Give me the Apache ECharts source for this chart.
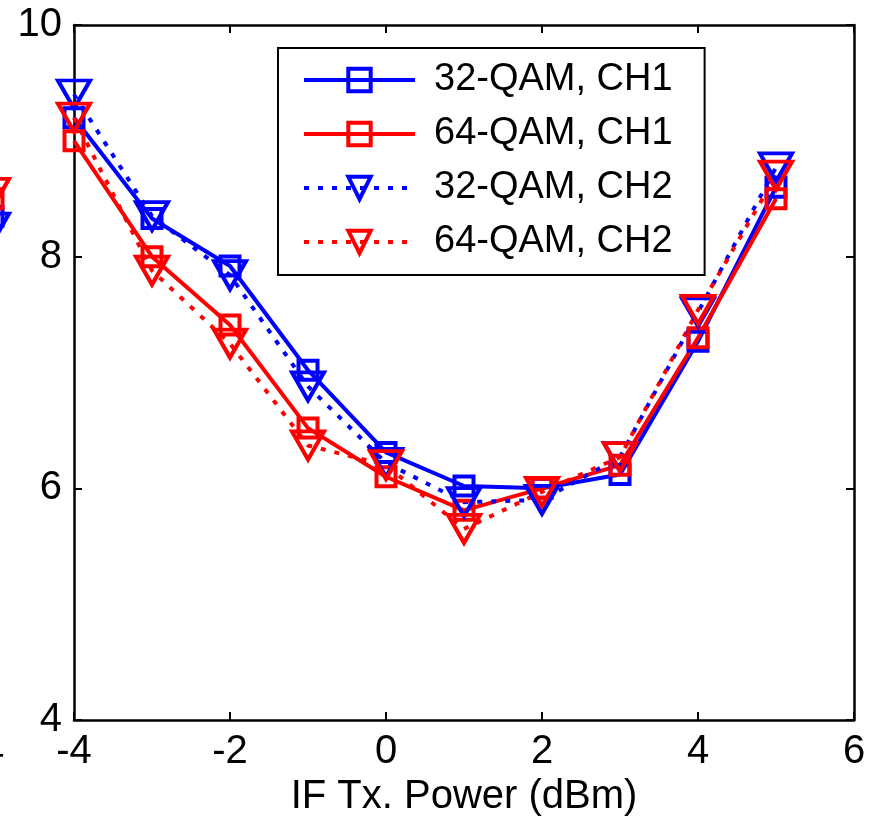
<!DOCTYPE html>
<html><head><meta charset="utf-8">
<script src="https://cdn.jsdelivr.net/npm/echarts@6/dist/echarts.min.js"></script>
<style>html,body{margin:0;padding:0;background:#fff}#c{width:869px;height:818px}</style>
</head><body><div id="c"></div>
<script>
// X values (IF Tx. Power, dBm)
const xValues = [-4, -3, -2, -1, 0, 1, 2, 3, 4, 5];
// Series values
const qam32ch1 = [9.2, 8.33, 7.92, 7.02, 6.31, 6.02, 6.0, 6.12, 7.27, 8.6];
const qam64ch1 = [9.0, 8.0, 7.41, 6.52, 6.1, 5.81, 6.0, 6.2, 7.3, 8.5];
const qam32ch2 = [9.4, 8.35, 7.84, 6.88, 6.22, 5.88, 5.9, 6.27, 7.52, 8.77];
const qam64ch2 = [9.2, 7.88, 7.25, 6.37, 6.2, 5.65, 5.97, 6.27, 7.54, 8.7];
const seriesNames = ['32-QAM, CH1', '64-QAM, CH1', '32-QAM, CH2', '64-QAM, CH2'];
// Cut-off neighbouring panel on the left edge (only its last points are visible)
const neighbourX = [4];
const nb32ch1 = [8.35];
const nb64ch1 = [8.5];
const nb32ch2 = [8.25];
const nb64ch2 = [8.55];
// Axis ranges / ticks
const xMin = -4, xMax = 6, xStep = 2;
const yMin = 4, yMax = 10, yStep = 2;

const BLUE = '#0000ff', RED = '#ff0000';
const FONT = 'Liberation Sans, Arial, sans-serif';
const pairs = (xs, ys) => xs.map((x, i) => [x, ys[i]]);

function mkSeries(name, data, color, dotted, tri, xi, yi, inLegend) {
  return {
    type: 'line', name: inLegend ? name : undefined,
    xAxisIndex: xi, yAxisIndex: yi,
    data: data,
    clip: false,
    symbol: tri ? 'triangle' : 'rect',
    symbolRotate: tri ? 180 : 0,
    symbolSize: tri ? [32, 28] : [19, 19],
    lineStyle: { color: color, width: 4, type: dotted ? [5, 9] : 'solid' },
    itemStyle: { color: 'rgba(255,255,255,0)', borderColor: color, borderWidth: 4 },
    emphasis: { disabled: true },
    animation: false,
    z: 3
  };
}

const chart = echarts.init(document.getElementById('c'), null, { renderer: 'canvas' });
const axisLineStyle = { color: '#000', width: 2.5 };
const tickStyle = { show: true, inside: true, length: 8, lineStyle: { color: '#000', width: 2 } };
const labelStyle = { color: '#000', fontSize: 40, fontFamily: FONT };

chart.setOption({
  backgroundColor: '#fff',
  animation: false,
  textStyle: { fontFamily: FONT },
  grid: [
    { left: 74, right: 15, top: 25, bottom: 98, containLabel: false, outerBoundsMode: 'none' },
    { left: -400, width: 393, top: 25, bottom: 98, containLabel: false, outerBoundsMode: 'none' }
  ],
  legend: {
    show: true,
    data: seriesNames,
    orient: 'vertical',
    left: 278, top: 48,
    padding: [13, 32, 14, 24],
    itemGap: 16,
    itemWidth: 111, itemHeight: 28,
    borderColor: '#000', borderWidth: 2,
    backgroundColor: '#fff',
    selectedMode: false,
    lineStyle: { width: 4 },
    itemStyle: { borderWidth: 4 },
    textStyle: { color: '#000', fontSize: 38, fontFamily: FONT, lineHeight: 38, padding: [0, 0, 0, 14] }
  },
  xAxis: [
    { type: 'value', gridIndex: 0, position: 'bottom', min: xMin, max: xMax, interval: xStep,
      name: 'IF Tx. Power (dBm)', nameLocation: 'middle', nameGap: 56,
      nameTextStyle: { color: '#000', fontSize: 40, fontFamily: FONT },
      axisLine: { show: true, onZero: false, lineStyle: axisLineStyle },
      axisTick: tickStyle, axisLabel: Object.assign({ margin: 12 }, labelStyle),
      splitLine: { show: false } },
    { type: 'value', gridIndex: 0, position: 'top', min: xMin, max: xMax, interval: xStep,
      axisLine: { show: true, onZero: false, lineStyle: axisLineStyle },
      axisTick: tickStyle, axisLabel: { show: false }, splitLine: { show: false } },
    { type: 'value', gridIndex: 1, position: 'bottom', min: -4, max: 4, interval: xStep,
      axisLine: { show: false, onZero: false }, axisTick: { show: false },
      axisLabel: Object.assign({ margin: 12 }, labelStyle), splitLine: { show: false } }
  ],
  yAxis: [
    { type: 'value', gridIndex: 0, position: 'left', min: yMin, max: yMax, interval: yStep,
      axisLine: { show: true, onZero: false, lineStyle: axisLineStyle },
      axisTick: tickStyle, axisLabel: Object.assign({ margin: 12 }, labelStyle),
      splitLine: { show: false } },
    { type: 'value', gridIndex: 0, position: 'right', min: yMin, max: yMax, interval: yStep,
      axisLine: { show: true, onZero: false, lineStyle: axisLineStyle },
      axisTick: tickStyle, axisLabel: { show: false }, splitLine: { show: false } },
    { type: 'value', gridIndex: 1, min: yMin, max: yMax, interval: yStep, show: false }
  ],
  series: [
    mkSeries(seriesNames[0], pairs(xValues, qam32ch1), BLUE, false, false, 0, 0, true),
    mkSeries(seriesNames[1], pairs(xValues, qam64ch1), RED, false, false, 0, 0, true),
    mkSeries(seriesNames[2], pairs(xValues, qam32ch2), BLUE, true, true, 0, 0, true),
    mkSeries(seriesNames[3], pairs(xValues, qam64ch2), RED, true, true, 0, 0, true),
    mkSeries('nb1', pairs(neighbourX, nb32ch1), BLUE, false, false, 2, 2, false),
    mkSeries('nb2', pairs(neighbourX, nb64ch1), RED, false, false, 2, 2, false),
    mkSeries('nb3', pairs(neighbourX, nb32ch2), BLUE, true, true, 2, 2, false),
    mkSeries('nb4', pairs(neighbourX, nb64ch2), RED, true, true, 2, 2, false)
  ]
});
</script>
</body></html>
